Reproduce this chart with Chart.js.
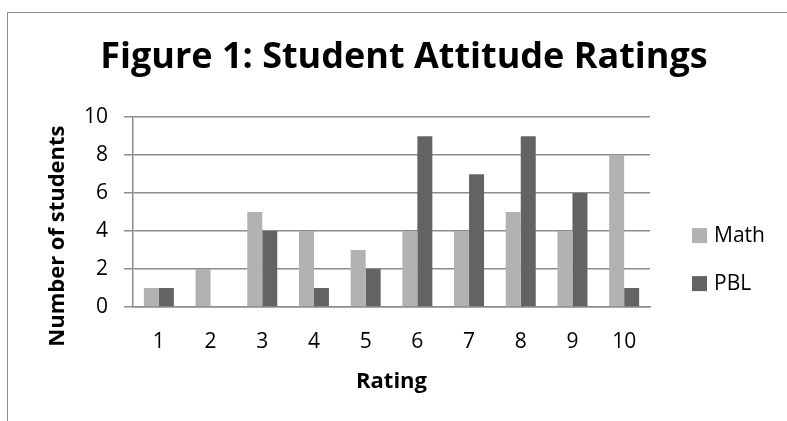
<!DOCTYPE html>
<html>
<head>
<meta charset="utf-8">
<script src="https://cdn.jsdelivr.net/npm/chart.js@4.4.1/dist/chart.umd.min.js"></script>
<style>
  html, body { margin: 0; padding: 0; background: #fff; }
  #wrap { position: relative; width: 787px; height: 421px; }
  #frame { position: absolute; left: 7px; top: 12px; right: -5px; bottom: -5px;
           border-left: 1.5px solid #8c8c8c; border-top: 1.5px solid #8c8c8c; pointer-events: none; }
  canvas { position: absolute; left: 0; top: 0; }
</style>
</head>
<body>
<div id="wrap">
  <canvas id="chart" width="787" height="421"></canvas>
  <div id="frame"></div>
</div>
<script>
const ratings = ['1', '2', '3', '4', '5', '6', '7', '8', '9', '10'];
const mathScores = [1, 2, 5, 4, 3, 4, 4, 5, 4, 8];
const pblScores = [1, null, 4, 1, 2, 9, 7, 9, 6, 1];
const seriesNames = ['Math', 'PBL'];
const seriesColors = ['#b2b2b2', '#636363'];
const yTitle = 'Number of students';

const FONT = '"Open Sans", "Noto Sans", sans-serif';
const gridColor = '#8c8c8c';

// legend on the right + y axis title sitting a bit lower than the plot middle (like Excel)
const sideLegend = {
  id: 'sideLegend',
  afterDraw(chart) {
    const { ctx, chartArea } = chart;
    const x = chartArea.right + 42;
    const mid = (chartArea.top + chartArea.bottom) / 2;
    ctx.save();
    ctx.font = '21px ' + FONT;
    ctx.textBaseline = 'middle';
    chart.data.datasets.forEach((ds, i) => {
      const y = mid + 23 + i * 48;
      ctx.fillStyle = ds.backgroundColor;
      ctx.fillRect(x, y - 7, 15, 15);
      ctx.fillStyle = '#000';
      ctx.fillText(ds.label, x + 22, y + 1);
    });

    ctx.translate(chartArea.left - 75, mid + 24);
    ctx.rotate(-Math.PI / 2);
    ctx.font = 'bold 22px ' + FONT;
    ctx.textAlign = 'center';
    ctx.fillText(yTitle, 0, 0);
    ctx.restore();
  }
};

new Chart(document.getElementById('chart').getContext('2d'), {
  type: 'bar',
  data: {
    labels: ratings,
    datasets: [
      { label: seriesNames[0], data: mathScores, backgroundColor: seriesColors[0] },
      { label: seriesNames[1], data: pblScores, backgroundColor: seriesColors[1] }
    ]
  },
  options: {
    responsive: false,
    animation: false,
    layout: { padding: { left: 21, right: 0, top: 0, bottom: 10 } },
    datasets: { bar: { barPercentage: 1, categoryPercentage: 0.58 } },
    plugins: {
      legend: { display: false },
      tooltip: { enabled: false },
      title: {
        display: true,
        text: 'Figure 1: Student Attitude Ratings',
        color: '#000',
        font: { family: FONT, size: 36, weight: 'bold', lineHeight: 1.2 },
        padding: { top: 36, bottom: 38 }
      }
    },
    scales: {
      x: {
        grid: { display: false, drawTicks: false },
        border: { color: gridColor, width: 1.5 },
        ticks: { color: '#000', font: { family: FONT, size: 21 }, padding: 22, maxRotation: 0 },
        title: {
          display: true, text: 'Rating', color: '#000',
          font: { family: FONT, size: 22, weight: 'bold' },
          padding: { top: 0, bottom: 16 }
        },
        afterFit(scale) {
          scale.height = 104;
          scale.paddingRight = 137;
        }
      },
      y: {
        min: 0, max: 10,
        grid: { color: gridColor, lineWidth: 1.5, tickLength: 9, tickColor: gridColor },
        border: { color: gridColor, width: 1.5 },
        ticks: { stepSize: 2, color: '#000', font: { family: FONT, size: 21 }, padding: 16 },
        title: { display: false, text: yTitle },
        afterFit(scale) { scale.width = 112; }
      }
    }
  },
  plugins: [sideLegend]
});
</script>
</body>
</html>
